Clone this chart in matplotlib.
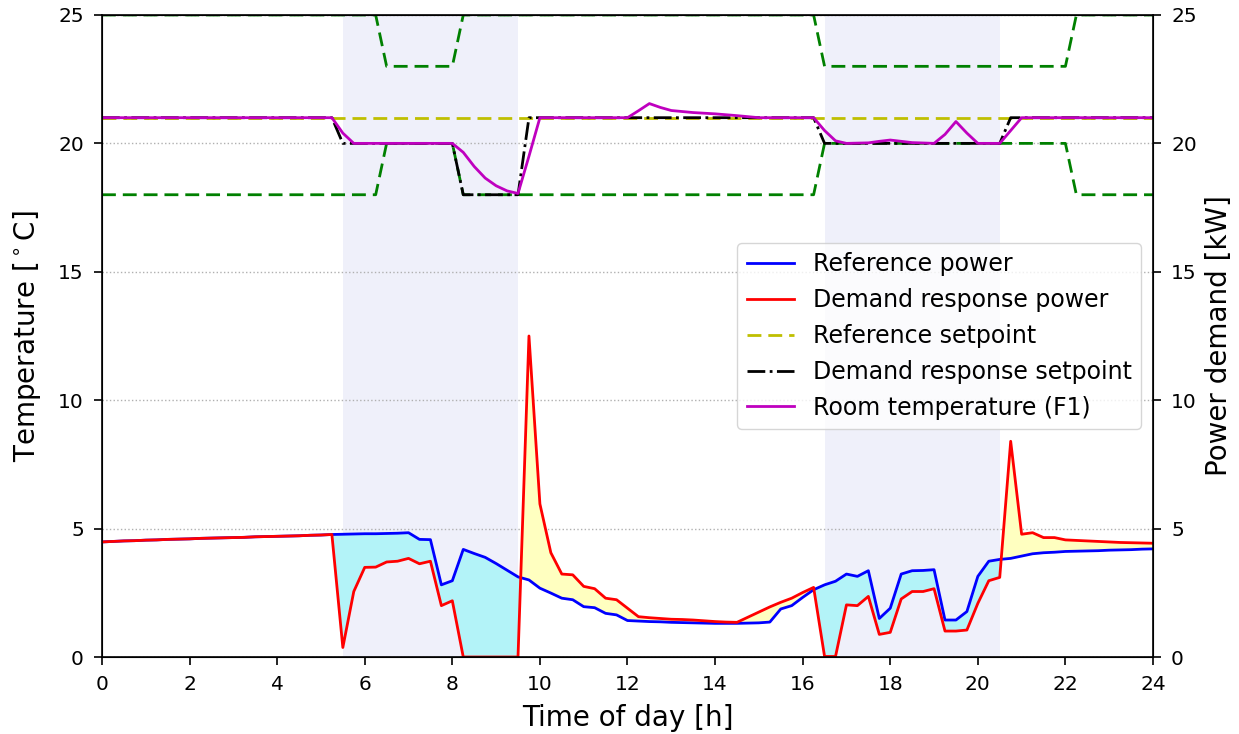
import numpy as np
import matplotlib
matplotlib.use("Agg")
import matplotlib.pyplot as plt

# ----------------------------------------------------------------------
# data
# ----------------------------------------------------------------------
# power series on a 15 minute grid, 0 .. 24 h
hours = np.arange(0, 24.01, 0.25)

ref_power = [
    4.48, 4.50, 4.52, 4.53, 4.55, 4.56, 4.58, 4.59, 4.60, 4.62, 4.63, 4.64,
    4.65, 4.66, 4.68, 4.69, 4.70, 4.71, 4.72, 4.74, 4.75, 4.77,          # 0 .. 5.25
    4.78, 4.79, 4.80, 4.80, 4.81, 4.82, 4.84, 4.58, 4.57, 2.81, 2.97,    # 5.5 .. 8.0
    4.19, 4.03, 3.88, 3.64, 3.38, 3.12, 3.00, 2.68, 2.49, 2.29, 2.23,    # 8.25 .. 10.75
    1.96, 1.92, 1.70, 1.64, 1.42, 1.40, 1.38, 1.37, 1.35, 1.34, 1.33,    # 11.0 .. 13.5
    1.32, 1.31, 1.31, 1.31, 1.32, 1.33, 1.36, 1.87, 2.00, 2.32, 2.62,    # 13.75 .. 16.25
    2.81, 2.95, 3.23, 3.14, 3.36, 1.50, 1.90, 3.23, 3.36, 3.37, 3.40,    # 16.5 .. 19.0
    1.44, 1.44, 1.77, 3.14, 3.73, 3.80, 3.84, 3.93, 4.02, 4.06, 4.08,    # 19.25 .. 21.75
    4.11, 4.12, 4.13, 4.14, 4.16, 4.17, 4.18, 4.20, 4.21,                # 22.0 .. 24.0
]

dr_power = [
    4.48, 4.50, 4.52, 4.53, 4.55, 4.56, 4.58, 4.59, 4.60, 4.62, 4.63, 4.64,
    4.65, 4.66, 4.68, 4.69, 4.70, 4.71, 4.72, 4.74, 4.75, 4.77,          # 0 .. 5.25
    0.37, 2.55, 3.49, 3.50, 3.70, 3.73, 3.84, 3.63, 3.73, 2.00, 2.19,    # 5.5 .. 8.0
    0.00, 0.00, 0.00, 0.00, 0.00, 0.00, 12.5, 5.96, 4.06, 3.23, 3.20,    # 8.25 .. 10.75
    2.75, 2.66, 2.29, 2.23, 1.90, 1.57, 1.53, 1.50, 1.47, 1.46, 1.44,    # 11.0 .. 13.5
    1.41, 1.38, 1.36, 1.35, 1.55, 1.75, 1.95, 2.13, 2.29, 2.51, 2.71,    # 13.75 .. 16.25
    0.02, 0.02, 2.03, 2.00, 2.36, 0.88, 0.96, 2.26, 2.55, 2.55, 2.66,    # 16.5 .. 19.0
    1.01, 1.01, 1.05, 2.09, 2.97, 3.10, 8.40, 4.78, 4.84, 4.65, 4.65,    # 19.25 .. 21.75
    4.56, 4.54, 4.52, 4.50, 4.48, 4.46, 4.45, 4.44, 4.43,                # 22.0 .. 24.0
]

# comfort band (green dashed)
t_band = [0, 6.25, 6.5, 8.0, 8.25, 16.25, 16.5, 22.0, 22.25, 24]
band_upper = [25, 25, 23, 23, 25, 25, 23, 23, 25, 25]
band_lower = [18, 18, 20, 20, 18, 18, 20, 20, 18, 18]

# setpoints
t_ref_sp = [0, 24]
ref_setpoint = [21, 21]
t_dr_sp = [0, 5.25, 5.5, 8.0, 8.25, 9.5, 9.75, 16.25, 16.5, 20.5, 20.75, 24]
dr_setpoint = [21, 21, 20, 20, 18, 18, 21, 21, 20, 20, 21, 21]

# room temperature F1
t_room = [0, 5.25, 5.5, 5.75, 8.0, 8.25, 8.5, 8.75, 9.0, 9.25, 9.5, 9.75,
          10.0, 12.0, 12.25, 12.5, 12.75, 13.0, 13.5, 14.0, 14.5, 15.0,
          16.25, 16.5, 16.75, 17.0, 17.5, 17.75, 18.0, 18.25, 18.5, 19.0,
          19.25, 19.5, 19.75, 20.0, 20.5, 20.75, 21.0, 24]
room_temp = [21, 21, 20.4, 20.0, 20.0, 19.65, 19.1, 18.65, 18.35, 18.15, 18.05, 19.5,
             21.0, 21.0, 21.27, 21.55, 21.4, 21.28, 21.2, 21.15, 21.08, 21.0,
             21.0, 20.5, 20.1, 20.0, 20.02, 20.08, 20.13, 20.08, 20.03, 20.0,
             20.35, 20.85, 20.4, 20.0, 20.0, 20.5, 21.0, 21.0]

# demand response events (shaded)
events = [(5.5, 9.5), (16.5, 20.5)]

# ----------------------------------------------------------------------
# plot
# ----------------------------------------------------------------------
ref_power = np.array(ref_power)
dr_power = np.array(dr_power)
dash = (5, 2.5)   # longer dashes than the matplotlib default

fig, ax = plt.subplots(figsize=(12.39, 7.34), dpi=100)
fig.subplots_adjust(left=0.0823, right=0.9306, top=0.9796, bottom=0.1049)

for start, end in events:
    ax.axvspan(start, end, color="#eff0fa", lw=0)

ax.grid(axis="y", linestyle=":", color="#b0b0b0", lw=1)
ax.plot(t_band, band_upper, "g--", lw=2, dashes=dash)
ax.plot(t_band, band_lower, "g--", lw=2, dashes=dash)
l3, = ax.plot(t_ref_sp, ref_setpoint, "y--", lw=2, dashes=dash,
              label="Reference setpoint")
l4, = ax.plot(t_dr_sp, dr_setpoint, "k-.", lw=2, label="Demand response setpoint")
l5, = ax.plot(t_room, room_temp, "m-", lw=2, label="Room temperature (F1)")

ax.set_xlim(0, 24)
ax.set_ylim(0, 25)
ax.set_xticks(range(0, 25, 2))
ax.set_yticks(range(0, 26, 5))
ax.set_xlabel("Time of day [h]", fontsize=20, labelpad=7)
ax.set_ylabel(r"Temperature [$^\circ$C]", fontsize=20, labelpad=11)
ax.tick_params(labelsize=14.5, length=6, width=1.2, pad=7)

ax2 = ax.twinx()
ax2.fill_between(hours, ref_power, dr_power, where=ref_power >= dr_power,
                 interpolate=True, color="#b3f3f8", lw=0)
ax2.fill_between(hours, ref_power, dr_power, where=dr_power >= ref_power,
                 interpolate=True, color="#ffffc0", lw=0)
l1, = ax2.plot(hours, ref_power, "b-", lw=2, label="Reference power")
l2, = ax2.plot(hours, dr_power, "r-", lw=2, label="Demand response power")
ax2.set_ylim(0, 25)
ax2.set_yticks(range(0, 26, 5))
ax2.set_ylabel("Power demand [kW]", fontsize=20, labelpad=6)
ax2.tick_params(labelsize=14.5, length=6, width=1.2, pad=7)

for spine in ax2.spines.values():
    spine.set_linewidth(1.2)

ax2.legend(handles=[l1, l2, l3, l4, l5], loc="center right", fontsize=17)

plt.savefig("out.png", dpi=100)
